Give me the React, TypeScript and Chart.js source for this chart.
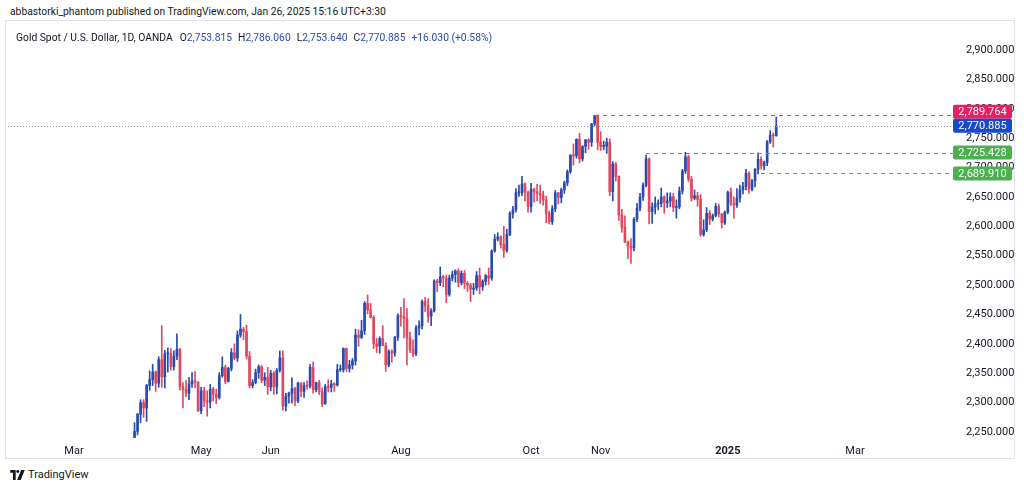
import { useEffect, useRef } from "react";
import { Chart, registerables } from "chart.js";

Chart.register(...registerables);

const FONT = "Roboto, 'Liberation Sans', sans-serif";
const TEXT = "#131722";
const UP = "#2A4BAE";
const DOWN = "#E2475F";

// time axis (trading-day index counted from the first trading day of March 2024)
const xTickIndex = [0, 42, 65, 108, 151, 174, 216, 258];
const xTickLabels = ["Mar", "May", "Jun", "Aug", "Oct", "Nov", "2025", "Mar"];
const xMin = -21.8;
const xMax = 287.75;

// price axis
const yTicks = [2250, 2300, 2350, 2400, 2450, 2500, 2550, 2600, 2650, 2700, 2750, 2800, 2850, 2900];
const yMin = 2239.8;
const yMax = 2937.4;

// first candle = Apr 1 2024
const firstBarIndex = 20;

const opens = [
  // Apr
  2232, 2251, 2280, 2300, 2291, 2329, 2339, 2352, 2333, 2373, 2344, 2383, 2383, 2361, 2379, 2391, 2327, 2322, 2316, 2332, 2337, 2335,
  // May
  2286, 2320, 2303, 2301, 2323, 2314, 2309, 2346, 2360, 2336, 2358, 2385, 2376, 2415, 2425, 2421, 2379, 2329, 2334, 2351, 2361, 2338, 2343,
  // Jun
  2327, 2350, 2327, 2355, 2376, 2294, 2311, 2316, 2324, 2303, 2333, 2319, 2329, 2328, 2360, 2322, 2334, 2319, 2298, 2327,
  // Jul
  2326, 2332, 2330, 2356, 2356, 2392, 2358, 2364, 2371, 2415, 2411, 2422, 2469, 2458, 2445, 2400, 2396, 2409, 2397, 2364, 2387, 2384, 2411,
  // Aug
  2448, 2446, 2443, 2410, 2390, 2383, 2427, 2431, 2472, 2465, 2447, 2456, 2507, 2504, 2514, 2512, 2484, 2512, 2518, 2524, 2504, 2520,
  // Sep
  2503, 2500, 2493, 2495, 2516, 2497, 2506, 2516, 2512, 2558, 2578, 2582, 2569, 2559, 2586, 2622, 2628, 2657, 2657, 2672, 2658,
  // Oct
  2634, 2663, 2659, 2656, 2653, 2645, 2622, 2608, 2630, 2657, 2649, 2662, 2674, 2693, 2721, 2720, 2748, 2715, 2736, 2747, 2743, 2774, 2788,
  // Nov
  2743, 2736, 2736, 2743, 2659, 2706, 2685, 2619, 2598, 2573, 2566, 2563, 2612, 2631, 2650, 2670, 2715, 2625, 2633, 2638, 2639,
  // Dec
  2650, 2640, 2643, 2650, 2632, 2633, 2660, 2694, 2718, 2680, 2648, 2652, 2646, 2586, 2594, 2622, 2612, 2618, 2634, 2621, 2606,
  // Jan
  2624, 2658, 2639, 2636, 2648, 2662, 2668, 2690, 2663, 2677, 2697, 2714, 2703, 2708, 2744, 2755, 2753.815,
];

const highs = [
  2266, 2282, 2305, 2305, 2331, 2354, 2365, 2354, 2378, 2431, 2389, 2393, 2392, 2388, 2417, 2392, 2334, 2338, 2343, 2351, 2353, 2336,
  2326, 2326, 2320, 2331, 2326, 2323, 2351, 2378, 2364, 2360, 2392, 2400, 2422, 2450, 2428, 2432, 2387, 2339, 2357, 2364, 2363, 2351, 2360,
  2355, 2353, 2358, 2388, 2388, 2316, 2318, 2342, 2326, 2335, 2334, 2334, 2337, 2365, 2369, 2335, 2338, 2325, 2331, 2339,
  2338, 2334, 2365, 2364, 2393, 2393, 2372, 2375, 2425, 2424, 2440, 2472, 2483, 2469, 2448, 2409, 2412, 2431, 2402, 2390, 2390, 2413, 2451,
  2462, 2477, 2460, 2420, 2407, 2431, 2439, 2475, 2479, 2477, 2460, 2509, 2510, 2531, 2517, 2517, 2517, 2524, 2526, 2528, 2524, 2525,
  2506, 2503, 2503, 2523, 2529, 2509, 2518, 2529, 2560, 2586, 2589, 2584, 2600, 2595, 2625, 2634, 2664, 2670, 2685, 2674, 2660,
  2673, 2665, 2672, 2670, 2660, 2651, 2626, 2635, 2661, 2658, 2665, 2677, 2696, 2722, 2740, 2749, 2758, 2737, 2748, 2749, 2775, 2789, 2789.764,
  2761, 2745, 2750, 2749, 2710, 2709, 2686, 2629, 2618, 2575, 2579, 2615, 2639, 2656, 2674, 2721, 2716, 2640, 2650, 2645, 2665,
  2652, 2657, 2657, 2656, 2645, 2667, 2697, 2726, 2721, 2685, 2662, 2658, 2654, 2611, 2632, 2627, 2621, 2639, 2638, 2622, 2626,
  2660, 2665, 2650, 2664, 2670, 2675, 2697, 2693, 2680, 2698, 2725, 2718, 2711, 2746, 2763, 2759, 2786.06,
];

const lows = [
  2229, 2245, 2266, 2275, 2268, 2321, 2329, 2319, 2326, 2326, 2325, 2352, 2355, 2355, 2373, 2321, 2291, 2310, 2305, 2326, 2325, 2285,
  2281, 2293, 2277, 2291, 2303, 2298, 2306, 2343, 2332, 2335, 2354, 2373, 2370, 2411, 2407, 2374, 2325, 2325, 2332, 2341, 2334, 2329, 2314,
  2320, 2314, 2315, 2352, 2287, 2286, 2299, 2299, 2295, 2300, 2310, 2309, 2323, 2325, 2316, 2318, 2314, 2293, 2297, 2318,
  2318, 2319, 2328, 2353, 2352, 2353, 2352, 2357, 2364, 2396, 2409, 2416, 2451, 2444, 2392, 2385, 2384, 2397, 2353, 2361, 2369, 2379, 2406,
  2430, 2410, 2364, 2385, 2378, 2380, 2415, 2425, 2455, 2437, 2431, 2454, 2489, 2499, 2497, 2470, 2481, 2507, 2505, 2497, 2500, 2494,
  2489, 2472, 2484, 2491, 2485, 2491, 2500, 2501, 2508, 2556, 2575, 2563, 2547, 2556, 2584, 2614, 2624, 2651, 2652, 2643, 2624,
  2624, 2641, 2643, 2639, 2636, 2606, 2604, 2603, 2625, 2638, 2640, 2656, 2669, 2690, 2704, 2716, 2708, 2711, 2725, 2731, 2736, 2771, 2730,
  2729, 2730, 2724, 2652, 2643, 2677, 2610, 2590, 2572, 2545, 2537, 2558, 2608, 2626, 2644, 2667, 2604, 2605, 2621, 2628, 2633,
  2622, 2632, 2633, 2625, 2614, 2630, 2655, 2690, 2676, 2643, 2645, 2634, 2583, 2583, 2591, 2603, 2609, 2616, 2616, 2597, 2603,
  2621, 2635, 2614, 2632, 2641, 2655, 2662, 2656, 2660, 2667, 2689, 2697, 2696, 2703, 2741, 2735, 2753.64,
];

const closes = [
  2251, 2280, 2300, 2291, 2329, 2339, 2352, 2333, 2373, 2344, 2383, 2383, 2361, 2379, 2391, 2327, 2322, 2316, 2332, 2337, 2335, 2286,
  2320, 2303, 2301, 2323, 2314, 2309, 2346, 2360, 2336, 2358, 2385, 2376, 2415, 2425, 2421, 2379, 2329, 2334, 2351, 2361, 2338, 2343, 2327,
  2350, 2327, 2355, 2376, 2294, 2311, 2316, 2324, 2303, 2333, 2319, 2329, 2328, 2360, 2322, 2334, 2319, 2298, 2327, 2326,
  2332, 2330, 2356, 2356, 2392, 2358, 2364, 2371, 2415, 2411, 2422, 2469, 2458, 2445, 2400, 2396, 2409, 2397, 2364, 2387, 2384, 2411, 2448,
  2446, 2443, 2410, 2390, 2383, 2427, 2431, 2472, 2465, 2447, 2456, 2507, 2504, 2514, 2512, 2484, 2512, 2518, 2524, 2504, 2520, 2503,
  2500, 2493, 2495, 2516, 2497, 2506, 2516, 2512, 2558, 2578, 2582, 2569, 2559, 2586, 2622, 2628, 2657, 2657, 2672, 2658, 2634,
  2663, 2659, 2656, 2653, 2645, 2622, 2608, 2630, 2657, 2649, 2662, 2674, 2693, 2721, 2720, 2748, 2715, 2736, 2747, 2743, 2774, 2788, 2743,
  2736, 2736, 2743, 2659, 2706, 2685, 2619, 2598, 2573, 2566, 2563, 2612, 2631, 2650, 2670, 2715, 2625, 2633, 2638, 2639, 2650,
  2640, 2643, 2650, 2632, 2633, 2660, 2694, 2718, 2680, 2648, 2652, 2646, 2586, 2594, 2622, 2612, 2618, 2634, 2621, 2606, 2624,
  2658, 2639, 2636, 2648, 2662, 2668, 2690, 2663, 2677, 2697, 2714, 2703, 2708, 2744, 2755, 2754, 2770.885,
];

// price-scale markers (value, box colour, line colour, start index of line; null = full width)
const markerValues = [2789.764, 2770.885, 2725.428, 2689.91];
const markerBoxColors = ["#E91E63", "#1848CC", "#4CAF50", "#4CAF50"];
const markerLineColors = ["#EC407A", "#9598A1", "#4CAF50", "#4CAF50"];
const markerLineStart: (number | null)[] = [172, null, 189, 227];
const markerDashOn = [4, 1, 4, 4];
const markerDashOff = [4, 2, 4, 4];
const lastPriceMarker = 1;

const fmt = (v: number) =>
  v.toLocaleString("en-US", { minimumFractionDigits: 3, maximumFractionDigits: 3 });

const overlayPlugin = {
  id: "overlay",
  afterDatasetsDraw(chart: any) {
    const { ctx, chartArea, scales } = chart;
    const x = scales.x;
    const y = scales.y;
    ctx.save();
    markerValues.forEach((v, i) => {
      const py = Math.round(y.getPixelForValue(v));
      const st = markerLineStart[i];
      const px = st === null ? Math.round(chartArea.left) : Math.round(x.getPixelForValue(st));
      const end = chartArea.right + 8;
      ctx.fillStyle = markerLineColors[i];
      const on = markerDashOn[i];
      const step = on + markerDashOff[i];
      for (let xx = px; xx < end; xx += step) {
        ctx.fillRect(xx, py, Math.min(on, end - xx), 1);
      }
    });
    ctx.restore();
  },
  afterDraw(chart: any) {
    const { ctx, chartArea, scales } = chart;
    const y = scales.y;
    const h = 14;
    const w = 59;
    const left = chartArea.right + 8;
    const ys = markerValues.map((v) => y.getPixelForValue(v));
    const order = ys.map((_, i) => i).sort((a, b) => ys[a] - ys[b]);
    const pos = order.indexOf(lastPriceMarker);
    const placed: number[] = ys.slice();
    for (let k = pos - 1; k >= 0; k--) {
      const i = order[k];
      const below = order[k + 1];
      placed[i] = Math.min(ys[i], placed[below] - h);
    }
    for (let k = pos + 1; k < order.length; k++) {
      const i = order[k];
      const above = order[k - 1];
      placed[i] = Math.max(ys[i], placed[above] + h);
    }
    ctx.save();
    ctx.font = `11px ${FONT}`;
    ctx.textAlign = "center";
    ctx.textBaseline = "middle";
    markerValues.forEach((v, i) => {
      const cy = placed[i];
      ctx.fillStyle = markerBoxColors[i];
      ctx.beginPath();
      if (ctx.roundRect) ctx.roundRect(left, cy - h / 2, w, h, 2);
      else ctx.rect(left, cy - h / 2, w, h);
      ctx.fill();
      ctx.fillStyle = "#FFFFFF";
      ctx.fillText(fmt(v), left + w / 2, cy + 0.5);
    });
    ctx.restore();
  },
};

export default function App() {
  const ref = useRef<HTMLCanvasElement>(null);

  useEffect(() => {
    if (!ref.current) return;
    const colors = closes.map((c, i) => (c >= opens[i] ? UP : DOWN));
    const bodies = closes.map((c, i) => ({ x: firstBarIndex + i, y: [opens[i], c] }));
    const wicks = closes.map((_, i) => ({ x: firstBarIndex + i, y: [lows[i], highs[i]] }));

    const chart = new Chart(ref.current, {
      type: "bar",
      data: {
        datasets: [
          {
            data: bodies as any,
            backgroundColor: colors,
            barThickness: 2,
            minBarLength: 1,
            grouped: false,
          } as any,
          {
            data: wicks as any,
            backgroundColor: colors,
            barThickness: 1,
            grouped: false,
          } as any,
        ],
      },
      options: {
        animation: false,
        responsive: true,
        maintainAspectRatio: false,
        layout: { padding: 0 },
        plugins: { legend: { display: false }, tooltip: { enabled: false } },
        scales: {
          x: {
            type: "linear",
            offset: false,
            min: xMin,
            max: xMax,
            grid: { display: false },
            border: { display: false },
            afterBuildTicks: (scale: any) => {
              scale.ticks = xTickIndex.map((v) => ({ value: v }));
            },
            afterFit: (scale: any) => {
              scale.height = 21;
              scale.paddingLeft = 0;
              scale.paddingRight = 0;
            },
            ticks: {
              autoSkip: false,
              maxRotation: 0,
              padding: -1,
              color: TEXT,
              font: (ctx: any) => ({
                family: FONT,
                size: 11,
                weight: ctx.tick && ctx.tick.label === "2025" ? "bold" : "normal",
              }),
              callback: (v: any) => {
                const k = xTickIndex.indexOf(Number(v));
                return k >= 0 ? xTickLabels[k] : "";
              },
            },
          },
          y: {
            type: "linear",
            position: "right",
            min: yMin,
            max: yMax,
            grid: { display: false },
            border: { display: false },
            afterBuildTicks: (scale: any) => {
              scale.ticks = yTicks.map((v) => ({ value: v }));
            },
            afterFit: (scale: any) => {
              scale.width = 69;
              scale.paddingTop = 0;
              scale.paddingBottom = 0;
            },
            ticks: {
              padding: 13,
              color: TEXT,
              font: { family: FONT, size: 11 },
              callback: (v: any) => fmt(Number(v)),
            },
          },
        },
      },
      plugins: [overlayPlugin],
    });
    return () => chart.destroy();
  }, []);

  const val = { color: UP };
  return (
    <div
      style={{
        position: "absolute",
        left: 0,
        top: 0,
        width: 1024,
        height: 490,
        background: "#FFFFFF",
        fontFamily: FONT,
        color: TEXT,
        overflow: "hidden",
      }}
    >
      <div style={{ position: "absolute", left: 10, top: 5, fontSize: 10.3, lineHeight: "14px", whiteSpace: "nowrap" }}>
        abbastorki_phantom published on TradingView.com, Jan 26, 2025 15:16 UTC+3:30
      </div>
      <div style={{ position: "absolute", left: 8, top: 28, width: 1006, height: 431 }}>
        <canvas ref={ref} />
      </div>
      <div
        style={{
          position: "absolute",
          left: 5,
          top: 20,
          width: 1010,
          height: 439,
          border: "1px solid #E0E3EB",
          boxSizing: "border-box",
          pointerEvents: "none",
        }}
      />
      <div style={{ position: "absolute", left: 16, top: 31, fontSize: 10.3, lineHeight: "14px", whiteSpace: "nowrap" }}>
        <span>Gold Spot / U.S. Dollar, 1D, OANDA</span>
        <span style={{ marginLeft: 7 }}>O</span>
        <span style={val}>2,753.815</span>
        <span style={{ marginLeft: 6 }}>H</span>
        <span style={val}>2,786.060</span>
        <span style={{ marginLeft: 6 }}>L</span>
        <span style={val}>2,753.640</span>
        <span style={{ marginLeft: 6 }}>C</span>
        <span style={val}>2,770.885</span>
        <span style={{ ...val, marginLeft: 6 }}>+16.030 (+0.58%)</span>
      </div>
      <div style={{ position: "absolute", left: 10, top: 469, display: "flex", alignItems: "center" }}>
        <svg width="15" height="10" viewBox="0 0 16 11">
          <path d="M0 0 H6 V11 H3 V3 H0 Z" fill={TEXT} />
          <circle cx="8.3" cy="1.6" r="1.6" fill={TEXT} />
          <path d="M12 0 H16 L11.5 11 H7.6 Z" fill={TEXT} />
        </svg>
        <span style={{ marginLeft: 3, fontSize: 11, lineHeight: "12px" }}>TradingView</span>
      </div>
    </div>
  );
}
